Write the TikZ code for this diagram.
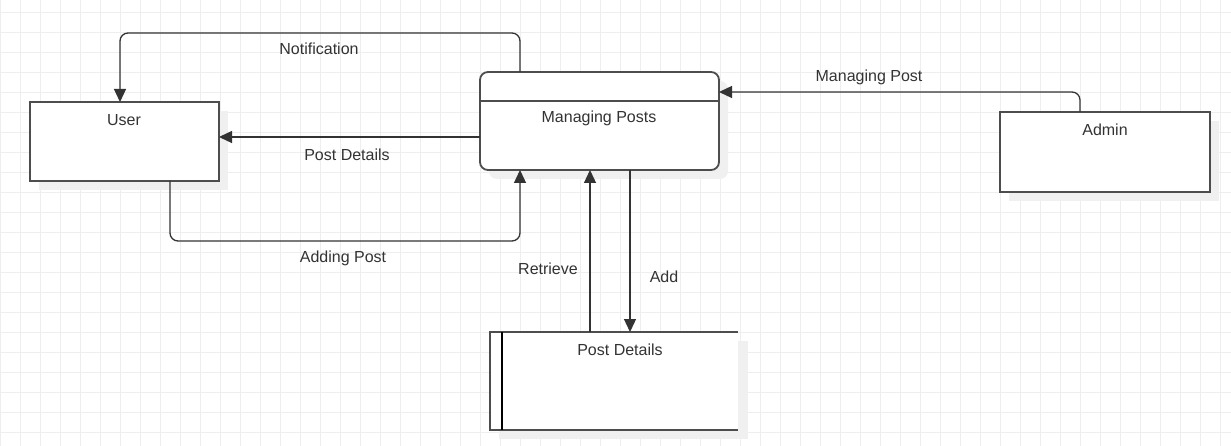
\documentclass[tikz,border=0pt]{standalone}
\usepackage{fontspec}
\setmainfont{Liberation Sans}
\usetikzlibrary{arrows.meta,calc}
\definecolor{gridc}{HTML}{EEEEEE}
\definecolor{shadowc}{HTML}{F0F0F0}
\definecolor{linec}{HTML}{333333}
\definecolor{boxc}{HTML}{4D4D4D}
\definecolor{txtc}{HTML}{333333}
\tikzset{
  box/.style={draw=boxc, line width=1.8pt, fill=white, inner sep=0pt, outer sep=0pt, anchor=north west},
  conn/.style={draw=linec, line width=1.3pt, rounded corners=8pt, -{Triangle[length=13pt,width=12pt]}},
  lbl/.style={font=\fontsize{16}{19}\selectfont, text=txtc, inner sep=0pt},
  shade/.style={fill=shadowc, draw=none}
}
\begin{document}
\begin{tikzpicture}[x=1pt,y=-1pt]
\useasboundingbox (0,0) rectangle (1231,446);
\fill[white] (0,0) rectangle (1231,446);
% grid
\foreach \k in {0,...,61} \draw[gridc, line width=1pt] ({0.5+20*\k},0) -- ({0.5+20*\k},446);
\foreach \k in {0,...,21} \draw[gridc, line width=1pt] (0,{12.5+20*\k}) -- (1231,{12.5+20*\k});
% shadows
\fill[shade] (39,111) rectangle (228,190);
\fill[shade, rounded corners=8pt] (489,81) rectangle (728,179);
\fill[shade] (1009,121) rectangle (1219,201);
\fill[shade] (499,341) rectangle (748,439);
% nodes
\node[box, minimum width=189pt, minimum height=79pt] (user) at (30,102) {};
\node[box, rounded corners=8pt, minimum width=239pt, minimum height=98pt] (mp) at (480,72) {};
\node[box, minimum width=210pt, minimum height=80pt] (admin) at (1000,112) {};
\node[inner sep=0pt, outer sep=0pt, anchor=north west, fill=white, minimum width=248pt, minimum height=98pt] (store) at (490,332) {};
\draw[boxc, line width=1.3pt] ([yshift=-29pt]mp.north west) -- ([yshift=-29pt]mp.north east);
\draw[boxc, line width=1.8pt] (store.north east) -- (store.north west) -- (store.south west) -- (store.south east);
\draw[black, line width=1.3pt] ([xshift=12pt]store.north west) -- ([xshift=12pt]store.south west);
% node texts
\node[lbl] (tuser) at (124,120) {User};
\node[lbl] (tmp) at (599,118) {Managing Posts};
\node[lbl] (tadmin) at (1105,130) {Admin};
\node[lbl] (tstore) at (620,350) {Post Details};
% connectors
\draw[conn] ([xshift=40pt]mp.north west) -- ++(0,-39) -| ([xshift=90pt]user.north west);
\draw[conn] ([yshift=-16pt]mp.west) -- ([yshift=-16pt]mp.west -| user.east);
\draw[conn] ([xshift=140pt]user.south west) -- ++(0,60) -| ([xshift=40pt]mp.south west);
\draw[conn] ([xshift=80pt]admin.north west) |- ([yshift=-20pt]mp.north east);
\draw[conn] ([xshift=100pt]store.north west) -- ([xshift=110pt]mp.south west);
\draw[conn] ([xshift=150pt]mp.south west) -- ([xshift=140pt]store.north west);
% labels
\node[lbl] (lnot) at (319,49) {Notification};
\node[lbl] (lpd) at (347,155) {Post Details};
\node[lbl] (lap) at (343,258) {Adding Post};
\node[lbl] (lmp) at (869,77) {Managing Post};
\node[lbl] (lret) at (548,269) {Retrieve};
\node[lbl] (ladd) at (664,277) {Add};
\end{tikzpicture}
\end{document}
